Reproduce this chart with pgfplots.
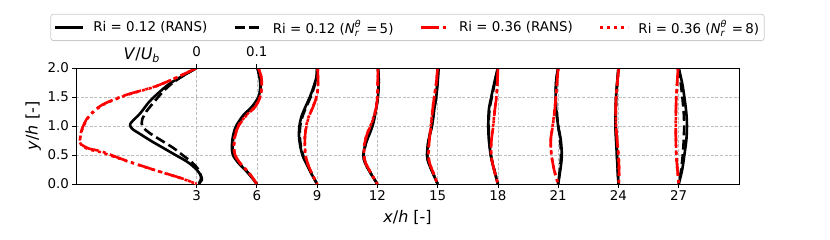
\documentclass[border=0pt]{standalone}
\usepackage{fontspec}
\setmainfont{DejaVu Sans}
\usepackage{pgfplots}
\usepackage{pgfplotstable}
\pgfplotsset{compat=1.18}

\newcommand\smallfs{\fontsize{9.5bp}{10bp}\selectfont}
\newcommand\Nr{\textit{N}\makebox[0.68em][l]{\rlap{\raisebox{0.75ex}{\smallfs\textit{θ}}}\raisebox{-0.5ex}{\smallfs\textit{r}}}}

\pgfplotstableread{
x y
3.0 2.0
2.4 1.88
1.7 1.74
1.2 1.6
0.65 1.42
0.2 1.22
-0.2 1.08
-0.31 1.02
-0.2 0.95
0.2 0.86
0.75 0.74
1.4 0.61
1.95 0.5
2.55 0.38
3.0 0.25
3.22 0.14
3.26 0.07
3.1 0.0
nan nan
6.03 2.0
6.13 1.85
6.17 1.68
6.08 1.5
5.75 1.33
5.34 1.19
4.97 1.0
4.81 0.82
4.76 0.64
4.81 0.5
5.09 0.36
5.59 0.18
6.0 0.0
nan nan
9.0 2.0
8.97 1.85
8.83 1.68
8.64 1.5
8.42 1.33
8.22 1.16
8.12 1.0
8.10 0.82
8.17 0.64
8.30 0.47
8.54 0.30
8.75 0.155
9.0 0.0
nan nan
12.03 2.0
12.07 1.79
12.03 1.5
11.93 1.28
11.80 1.05
11.62 0.87
11.42 0.70
11.30 0.5
11.39 0.36
11.67 0.18
12.0 0.0
nan nan
15.05 2.0
15.0 1.74
14.93 1.5
14.83 1.28
14.72 1.0
14.55 0.76
14.47 0.5
14.55 0.36
14.77 0.18
15.0 0.0
nan nan
18.0 2.0
17.85 1.79
17.67 1.5
17.55 1.28
17.52 1.0
17.55 0.76
17.64 0.5
17.77 0.30
18.0 0.0
nan nan
21.0 2.0
20.9 1.79
20.87 1.5
20.9 1.28
21.0 1.0
21.13 0.76
21.18 0.5
21.13 0.30
21.0 0.0
nan nan
24.0 2.0
23.88 1.5
23.85 1.0
23.92 0.5
24.0 0.0
nan nan
27.0 2.0
27.17 1.74
27.28 1.5
27.38 1.22
27.41 1.0
27.38 0.76
27.28 0.5
27.17 0.24
27.0 0.0
}\blacksolid

\pgfplotstableread{
x y
3.0 2.0
2.4 1.88
1.8 1.74
1.35 1.6
0.9 1.42
0.5 1.25
0.3 1.12
0.27 1.05
0.35 0.97
0.7 0.87
1.3 0.74
1.85 0.62
2.3 0.5
2.75 0.38
3.05 0.27
3.2 0.16
3.22 0.08
3.1 0.0
nan nan
6.03 2.0
6.14 1.85
6.19 1.68
6.11 1.5
5.80 1.33
5.40 1.19
5.02 1.0
4.85 0.82
4.79 0.64
4.84 0.5
5.11 0.36
5.60 0.18
6.0 0.0
nan nan
9.0 2.0
8.98 1.85
8.86 1.68
8.68 1.5
8.46 1.33
8.27 1.16
8.16 1.0
8.14 0.82
8.20 0.64
8.33 0.47
8.56 0.30
8.76 0.155
9.0 0.0
nan nan
12.03 2.0
12.07 1.79
12.02 1.5
11.92 1.28
11.78 1.05
11.60 0.87
11.43 0.70
11.32 0.5
11.40 0.36
11.68 0.18
12.0 0.0
nan nan
15.03 2.0
14.98 1.74
14.91 1.5
14.82 1.28
14.71 1.0
14.55 0.76
14.48 0.5
14.56 0.36
14.78 0.18
15.0 0.0
nan nan
18.0 2.0
17.87 1.79
17.70 1.5
17.58 1.28
17.54 1.0
17.57 0.76
17.65 0.5
17.78 0.30
18.0 0.0
nan nan
21.0 2.0
20.91 1.79
20.88 1.5
20.91 1.28
21.0 1.0
21.1 0.76
21.14 0.5
21.1 0.30
21.0 0.0
nan nan
24.0 2.0
23.89 1.5
23.87 1.0
23.93 0.5
24.0 0.0
nan nan
27.0 2.0
27.1 1.74
27.18 1.5
27.25 1.22
27.27 1.0
27.25 0.76
27.2 0.5
27.12 0.24
27.0 0.0
}\blackdash

\pgfplotstableread{
x y
3.0 2.0
2.09 1.85
0.93 1.68
-0.56 1.53
-1.72 1.36
-2.39 1.16
-2.72 0.93
-2.80 0.76
-2.72 0.68
-2.35 0.61
-1.72 0.56
-0.56 0.41
0.93 0.24
2.26 0.098
3.0 0.0
nan nan
6.08 2.0
6.22 1.85
6.25 1.68
6.17 1.5
5.92 1.33
5.5 1.19
5.09 1.0
4.92 0.82
4.87 0.64
4.92 0.5
5.17 0.36
5.64 0.18
6.0 0.0
nan nan
9.03 2.0
9.05 1.68
8.97 1.5
8.8 1.33
8.59 1.16
8.47 1.0
8.4 0.82
8.4 0.64
8.44 0.47
8.59 0.30
8.78 0.155
9.0 0.0
nan nan
12.03 2.0
12.0 1.5
11.92 1.28
11.72 1.05
11.5 0.87
11.37 0.70
11.34 0.5
11.42 0.36
11.7 0.18
12.0 0.0
nan nan
15.0 2.0
14.93 1.74
14.83 1.5
14.75 1.28
14.67 1.0
14.59 0.76
14.55 0.5
14.6 0.36
14.8 0.18
15.0 0.0
nan nan
18.0 2.0
17.98 1.79
17.93 1.5
17.85 1.28
17.77 1.0
17.68 0.76
17.67 0.5
17.77 0.30
18.0 0.0
nan nan
21.0 2.0
20.93 1.68
20.83 1.28
20.73 1.0
20.63 0.76
20.67 0.5
20.8 0.24
21.0 0.0
nan nan
24.02 2.0
23.88 1.5
23.88 1.0
24.0 0.5
24.03 0.24
24.02 0.0
nan nan
26.97 2.0
26.88 1.5
26.85 1.0
26.88 0.5
27.0 0.0
}\reddashdot

\pgfplotstableread{
x y
3.0 2.0
2.1 1.85
0.95 1.68
-0.5 1.53
-1.68 1.36
-2.36 1.16
-2.7 0.93
-2.8 0.76
-2.75 0.68
-2.4 0.60
-1.78 0.55
-0.6 0.41
0.9 0.24
2.24 0.098
3.0 0.0
nan nan
6.07 2.0
6.21 1.85
6.24 1.68
6.16 1.5
5.9 1.33
5.48 1.19
5.07 1.0
4.9 0.82
4.86 0.64
4.91 0.5
5.16 0.36
5.63 0.18
6.0 0.0
nan nan
9.03 2.0
9.04 1.68
8.96 1.5
8.79 1.33
8.58 1.16
8.46 1.0
8.39 0.82
8.39 0.64
8.43 0.47
8.58 0.30
8.78 0.155
9.0 0.0
nan nan
12.03 2.0
12.0 1.5
11.91 1.28
11.71 1.05
11.49 0.87
11.36 0.70
11.33 0.5
11.41 0.36
11.69 0.18
12.0 0.0
nan nan
15.0 2.0
14.93 1.74
14.83 1.5
14.74 1.28
14.66 1.0
14.58 0.76
14.54 0.5
14.6 0.36
14.8 0.18
15.0 0.0
nan nan
18.0 2.0
17.98 1.79
17.92 1.5
17.84 1.28
17.76 1.0
17.68 0.76
17.66 0.5
17.77 0.30
18.0 0.0
nan nan
21.0 2.0
20.93 1.68
20.82 1.28
20.72 1.0
20.63 0.76
20.66 0.5
20.8 0.24
21.0 0.0
nan nan
24.02 2.0
23.89 1.5
23.88 1.0
24.0 0.5
24.03 0.24
24.02 0.0
nan nan
26.97 2.0
26.88 1.5
26.86 1.0
26.88 0.5
27.0 0.0
}\reddot

\definecolor{gridgray}{RGB}{190,190,190}
\definecolor{leggray}{RGB}{204,204,204}

\pgfplotsset{
  every axis/.append style={
    /pgf/number format/assume math mode=true,
    tick label style={font=\fontsize{13.4bp}{16bp}\selectfont},
    label style={font=\fontsize{16bp}{19bp}\selectfont},
  },
}

\begin{document}
\begin{tikzpicture}
\begin{axis}[
  at={(0,0)}, anchor=south west,
  width=663bp, height=116bp, scale only axis,
  xmin=-3, xmax=30, ymin=0, ymax=2,
  xtick={3,6,...,27}, ytick={0,0.5,...,2},
  yticklabel style={/pgf/number format/fixed, /pgf/number format/fixed zerofill, /pgf/number format/precision=1},
  tick align=outside, tick pos=left, major tick length=3.5bp,
  tick style={black, line width=0.8bp},
  axis line style={black, line width=0.9bp},
  grid=major,
  major grid style={color=gridgray, dash pattern=on 3bp off 1.6bp, line width=0.5bp},
  xlabel={\textit{x}/\textit{h} [-]},
  ylabel={\textit{y}/\textit{h} [-]},
  xlabel style={yshift=-2bp},
  unbounded coords=jump,
  legend columns=4,
  legend style={at={(0.5,1)}, anchor=south, yshift=27bp,
    draw=leggray, rounded corners=2.5bp, fill=white, line width=0.8bp,
    font=\fontsize{13.4bp}{16bp}\selectfont,
    inner xsep=3bp, inner ysep=4bp,
    /tikz/every odd column/.append style={column sep=7bp},
    /tikz/every even column/.append style={column sep=24bp}},
  legend image code/.code={\draw[#1] (0bp,0bp) -- (28bp,0bp);},
]
\addplot[black, line width=2.6bp, smooth, line join=round] table {\blacksolid};
\addplot[black, line width=2.6bp, smooth, dash pattern=on 10bp off 4.4bp] table {\blackdash};
\addplot[red, line width=2.6bp, smooth, dash pattern=on 18bp off 4.5bp on 3bp off 4.5bp] table {\reddashdot};
\addplot[red, line width=2.6bp, smooth, dash pattern=on 3bp off 4bp] table {\reddot};
\legend{Ri = 0.12 (RANS), Ri = 0.12 (\Nr\,=\,5), Ri = 0.36 (RANS), Ri = 0.36 (\Nr\,=\,8)}
\end{axis}
\begin{axis}[
  at={(0,0)}, anchor=south west,
  width=663bp, height=116bp, scale only axis,
  xmin=-3, xmax=30, ymin=0, ymax=2,
  axis x line*=top, axis y line=none,
  axis line style={black, line width=0.9bp},
  xtick={3,6}, xticklabels={0,0.1},
  extra x ticks={0.26},
  extra x tick labels={\fontsize{16bp}{19bp}\selectfont\textit{V}/\textit{U}\raisebox{-0.35ex}{\fontsize{11bp}{12bp}\selectfont\textit{b}}},
  extra x tick style={major tick length=0pt},
  typeset ticklabels with strut,
  tick align=outside, major tick length=3.5bp,
  tick style={black, line width=0.8bp},
]
\addplot[draw=none] coordinates {(0,0)};
\end{axis}
\pgfresetboundingbox
\path (-76bp,-56bp) rectangle (754bp,184bp);
\end{tikzpicture}
\end{document}
